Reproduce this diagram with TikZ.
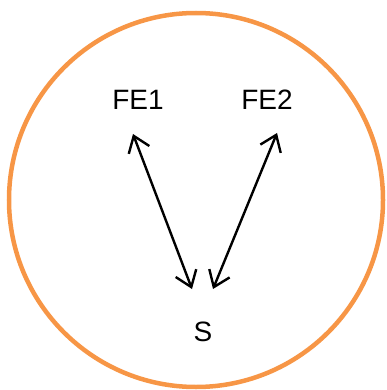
\documentclass[tikz,border=0pt]{standalone}
\usepackage{fontspec}
\setmainfont{Liberation Sans}
\usetikzlibrary{arrows.meta}
\definecolor{ringorange}{RGB}{247,150,70}
\tikzset{
  lbl/.style={font=\fontsize{28}{30}\selectfont, inner sep=0pt, anchor=center},
  link/.style={line width=2.4pt, {Straight Barb[length=15pt,width=22pt]}-{Straight Barb[length=15pt,width=22pt]}},
}
\begin{document}
\begin{tikzpicture}[x=1pt,y=-1pt]
\useasboundingbox (0,0) rectangle (387,390);
\node[circle, draw=ringorange, line width=4.5pt, minimum size=374pt, inner sep=0pt] (ring) at (196,200) {};
\node[lbl] (fe1) at (138,100) {FE1};
\node[lbl] (fe2) at (267,100) {FE2};
\node[lbl] (s) at (203,332) {S};
\coordinate (fe1a) at (133,134);
\coordinate (fe2a) at (277,133);
\coordinate (s1) at (192,289);
\coordinate (s2) at (213,289);
\draw[link] (fe1a) -- (s1);
\draw[link] (fe2a) -- (s2);
\end{tikzpicture}
\end{document}
